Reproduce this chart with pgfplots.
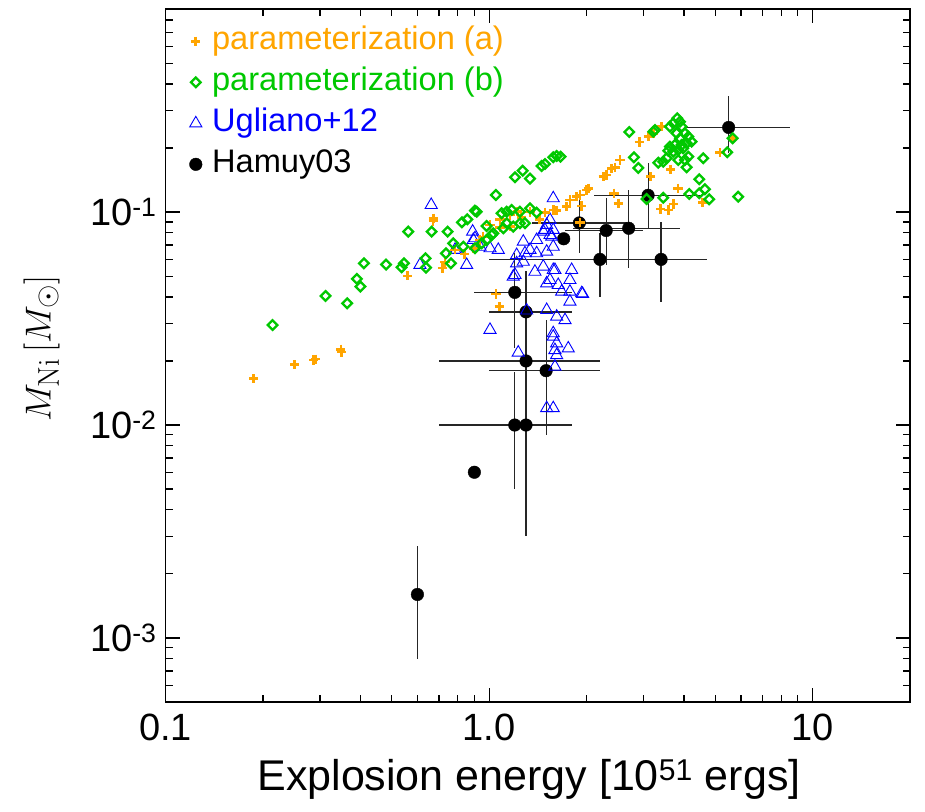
\documentclass[border=0pt]{standalone}
\usepackage[no-math]{fontspec}
\setmainfont{Liberation Sans}
\usepackage{pgfplots}
\usepackage{pgfplotstable}
\pgfplotsset{compat=1.18}
\definecolor{porange}{RGB}{255,165,0}
\definecolor{pgreen}{RGB}{0,200,0}
\definecolor{pblue}{RGB}{0,0,255}

\pgfplotstableread{
x y
0.187 0.0165
0.250 0.0192
0.287 0.0202
0.291 0.0204
0.349 0.0220
0.348 0.0227
0.560 0.0502
0.672 0.0936
0.671 0.0909
0.717 0.0547
0.839 0.0636
0.893 0.0677
1.050 0.0413
1.075 0.0360
1.080 0.0926
1.006 0.0871
1.160 0.0970
1.221 0.1005
1.260 0.0946
1.578 0.1024
1.617 0.1016
1.736 0.1061
1.777 0.1141
1.864 0.1182
1.909 0.1204
2.001 0.1271
2.025 0.1295
1.932 0.1069
2.253 0.1468
2.308 0.1495
2.391 0.1608
2.448 0.1625
2.537 0.1758
2.911 0.2136
3.103 0.2262
3.217 0.2348
3.414 0.2521
2.431 0.1227
2.507 0.1101
1.909 0.0892
3.157 0.1468
3.640 0.1590
3.834 0.1295
3.390 0.1035
3.578 0.1024
3.709 0.1093
4.571 0.1108
5.170 0.1903
5.657 0.2223
0.730 0.0583
0.784 0.0665
0.937 0.0740
1.337 0.1002
1.488 0.0998
1.434 0.0925
0.957 0.0765
1.080 0.0845
1.160 0.0855
}\paramA

\pgfplotstableread{
x y
0.214 0.0295
0.312 0.0404
0.364 0.0373
0.390 0.0486
0.400 0.0447
0.410 0.0575
0.480 0.0567
0.536 0.0551
0.545 0.0575
0.562 0.0810
0.636 0.0607
0.638 0.0549
0.664 0.0810
0.744 0.0810
0.735 0.0641
0.762 0.0575
0.774 0.0714
0.824 0.0896
0.856 0.0926
0.832 0.0688
0.904 0.1016
0.915 0.1005
0.904 0.0677
0.948 0.0714
0.982 0.0740
1.018 0.0781
1.030 0.0796
1.049 0.1204
1.093 0.0988
1.133 0.1005
1.174 0.1024
1.245 0.1005
1.337 0.1043
1.402 0.0995
1.106 0.0840
1.133 0.0887
1.187 0.0855
1.245 0.0887
1.290 0.0887
1.202 0.1458
1.269 0.1566
1.337 0.1437
1.453 0.1647
1.488 0.1684
1.578 0.1810
1.617 0.1836
1.663 0.1822
2.711 0.2380
2.803 0.1810
2.891 0.1613
3.217 0.2387
3.256 0.2431
3.333 0.1707
3.453 0.1725
3.537 0.1791
3.068 0.1153
3.453 0.1169
3.622 0.2521
3.709 0.2615
3.815 0.2761
3.889 0.2661
3.936 0.2521
3.798 0.2348
3.889 0.2224
4.030 0.2348
4.126 0.2262
4.227 0.2144
4.079 0.2106
3.936 0.2068
3.753 0.2068
3.622 0.2030
3.578 0.1944
3.709 0.1923
3.842 0.1958
3.981 0.1995
4.126 0.1822
4.030 0.1758
3.842 0.1758
4.079 0.1625
4.589 0.1791
4.462 0.1427
4.155 0.1217
4.462 0.1227
4.643 0.1281
4.790 0.1149
5.445 0.1911
5.657 0.2223
5.888 0.1182
0.982 0.0861
}\paramB

\pgfplotstableread{
x y
0.662 0.1081
0.611 0.0565
0.784 0.0665
0.852 0.0565
0.889 0.0810
0.904 0.0754
0.793 0.0665
0.937 0.0688
1.006 0.0677
1.067 0.0665
0.893 0.0740
1.006 0.0280
1.187 0.0498
1.216 0.0629
1.275 0.0727
1.290 0.0641
1.337 0.0665
1.402 0.0641
1.385 0.0525
1.506 0.0652
1.578 0.0688
1.488 0.0825
1.542 0.0919
1.561 0.0767
1.578 0.1162
1.597 0.0535
1.542 0.0480
1.799 0.0535
1.777 0.0480
1.635 0.0455
1.675 0.0423
1.777 0.0423
1.932 0.0416
1.506 0.0347
1.617 0.0323
1.716 0.0311
1.578 0.0270
1.470 0.0555
1.216 0.0575
1.275 0.0585
1.202 0.0507
1.506 0.0463
1.578 0.0535
1.777 0.0380
1.306 0.0345
1.230 0.0219
1.578 0.0260
1.617 0.0242
1.597 0.0225
1.617 0.0213
1.597 0.0188
1.756 0.0229
1.506 0.0120
1.578 0.0120
1.470 0.0810
1.506 0.0871
1.542 0.0781
1.578 0.0825
1.402 0.0740
1.945 0.0413
}\ugliano

\pgfplotstableread{
x y xp xm yp ym
0.6 0.0016 0 0 0.0011 0.0008
0.9 0.006 0 0 0 0
1.2 0.042 0.6 0.3 0.022 0.019
1.3 0.034 0.5 0.3 0.019 0.019
1.3 0.020 0.9 0.6 0.012 0.009
1.5 0.018 0.7 0.5 0.013 0.009
1.2 0.010 0.6 0.5 0.0078 0.005
1.3 0.010 0.4 0.4 0.007 0.007
1.7 0.075 0 0 0 0
1.9 0.089 0.76 0.54 0.029 0.025
2.3 0.082 0.69 0.58 0.034 0.0255
2.7 0.084 1.19 0.88 0.043 0.0295
2.2 0.060 1.2 1.2 0.020 0.020
3.4 0.060 1.3 1.3 0.030 0.022
3.1 0.12 1.49 0.99 0.05 0.036
5.5 0.25 3.01 1.47 0.10 0.06
}\hamuy

\begin{document}
\begin{tikzpicture}
\path[use as bounding box] (-165.7pt,-109pt) rectangle (759.3pt,702pt);
\begin{axis}[
  scale only axis, width=744.3pt, height=693pt,
  xmode=log, ymode=log,
  xmin=0.1, xmax=20, ymin=5e-4, ymax=0.9,
  axis line style={line width=1.3pt},
  every tick/.style={line width=1.3pt, black},
  major tick length=14pt, minor tick length=7pt,
  tick align=inside,
  xtick={0.1,1,10}, xticklabels={0.1,1.0,10},
  minor xtick={0.2,0.3,0.4,0.5,0.6,0.7,0.8,0.9,2,3,4,5,6,7,8,9,20},
  ytick={0.001,0.01,0.1},
  yticklabels={10\textsuperscript{-3},10\textsuperscript{-2},10\textsuperscript{-1}},
  minor ytick={6e-4,7e-4,8e-4,9e-4,0.002,0.003,0.004,0.005,0.006,0.007,0.008,0.009,0.02,0.03,0.04,0.05,0.06,0.07,0.08,0.09,0.2,0.3,0.4,0.5,0.6,0.7,0.8},
  xticklabel style={font=\fontsize{38}{40}\selectfont, anchor=base, inner sep=0pt, yshift=-38pt},
  yticklabel style={font=\fontsize{38}{40}\selectfont, anchor=base east, inner sep=0pt, yshift=-13.6pt, xshift=-9pt},
  xlabel={Explosion energy [10\textsuperscript{51} ergs]},
  xlabel style={font=\fontsize{43}{46}\selectfont, at={(axis description cs:0.488,-0.127)}, anchor=base, inner sep=0pt},
  ylabel={$M_{\mathrm{Ni}}\,[M_\odot]$},
  ylabel style={font=\fontsize{24.88}{28}\selectfont, scale=1.45, at={(axis description cs:-0.1666,0.51)}, anchor=center, inner sep=0pt},
  legend style={draw=none, fill=none, at={(axis description cs:0.032,0.975)}, anchor=north west,
    font=\fontsize{32.6}{35}\selectfont, inner sep=0pt, outer sep=0pt, row sep=11pt, column sep=10pt,
    nodes={inner sep=0pt, text height=23pt, text depth=7pt}},
  legend cell align=left,
]
% legend entries
\addlegendimage{only marks, mark=+, mark size=4.6pt, line width=2.7pt, color=porange}
\addlegendentry{\textcolor{porange}{parameterization (a)}}
\addlegendimage{only marks, mark=square, mark size=3.4pt, line width=2.3pt, color=pgreen, mark options={rotate=45}}
\addlegendentry{\textcolor{pgreen}{parameterization (b)}}
\addlegendimage{only marks, mark=triangle, mark size=7pt, line width=0.9pt, color=pblue}
\addlegendentry{\textcolor{pblue}{Ugliano+12}}
\addlegendimage{only marks, mark=*, mark size=6.3pt, color=black}
\addlegendentry{Hamuy03}

% Hamuy03 with error bars
\addplot[only marks, mark=*, mark size=6.3pt, color=black, forget plot,
  error bars/.cd, x dir=both, x explicit, y dir=both, y explicit,
  error mark=none, error bar style={line width=1.2pt, black!85}]
  table[x=x, y=y, x error plus=xp, x error minus=xm, y error plus=yp, y error minus=ym] {\hamuy};
% Ugliano+12
\addplot[only marks, mark=triangle, mark size=7pt, line width=0.9pt, color=pblue, forget plot]
  table[x=x, y=y] {\ugliano};
% parameterization (a)
\addplot[only marks, mark=+, mark size=4.6pt, line width=2.7pt, color=porange, forget plot]
  table[x=x, y=y] {\paramA};
% parameterization (b)
\addplot[only marks, mark=square, mark size=3.4pt, line width=2.3pt, color=pgreen, mark options={rotate=45}, forget plot]
  table[x=x, y=y] {\paramB};
\end{axis}
\end{tikzpicture}
\end{document}
